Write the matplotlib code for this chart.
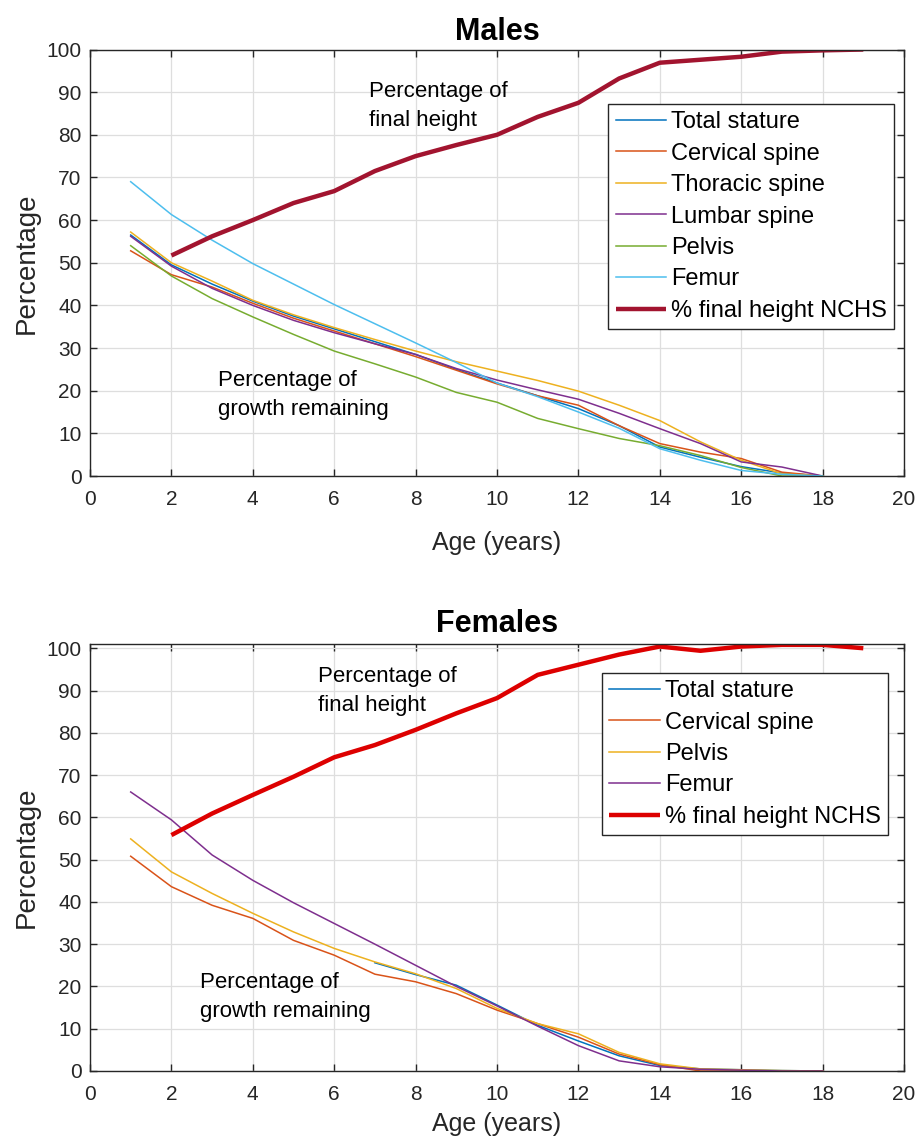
import matplotlib
matplotlib.use("Agg")
import matplotlib.pyplot as plt
import numpy as np

plt.rcParams['font.family'] = ['Liberation Sans', 'DejaVu Sans']

# ---------------- data ----------------
ages = [1, 2, 3, 4, 5, 6, 7, 8, 9, 10, 11, 12, 13, 14, 15, 16, 17, 18]
nchs_ages = [2, 3, 4, 5, 6, 7, 8, 9, 10, 11, 12, 13, 14, 15, 16, 17, 18, 19]

# Males
m_total = [56.5, 49.5, 45.0, 41.0, 37.5, 34.5, 31.5, 28.5, 25.0, 21.8, 18.8, 15.8, 11.8, 6.8, 4.4, 2.2, 0.7, 0.0]
m_cervical = [52.8, 47.2, 44.3, 40.5, 37.0, 34.0, 31.0, 28.0, 24.8, 21.6, 18.8, 16.6, 11.8, 7.6, 5.6, 4.1, 0.9, 0.0]
m_thoracic = [57.2, 50.0, 45.7, 41.2, 37.8, 34.8, 32.0, 29.3, 26.8, 24.6, 22.4, 19.9, 16.6, 13.0, 8.0, 3.7, 0.5, 0.0]
m_lumbar = [56.2, 49.2, 44.0, 40.0, 36.5, 33.6, 31.0, 28.5, 25.2, 22.5, 20.2, 18.0, 14.7, 11.1, 7.6, 3.3, 2.1, 0.0]
m_pelvis = [54.0, 46.9, 41.6, 37.3, 33.2, 29.3, 26.3, 23.2, 19.6, 17.3, 13.5, 11.1, 8.8, 7.1, 4.8, 2.0, 0.0, 0.0]
m_femur = [69.0, 61.3, 55.3, 49.8, 45.0, 40.2, 35.7, 31.2, 26.6, 21.8, 18.6, 15.0, 11.2, 6.4, 3.7, 1.3, 0.4, 0.0]
m_nchs = [51.7, 56.2, 60.0, 64.0, 66.8, 71.5, 75.0, 77.6, 80.0, 84.2, 87.5, 93.2, 96.9, 97.6, 98.3, 99.5, 99.8, 100.0]

# Females
f_total_ages = [7, 8, 9, 10, 11, 12, 13, 14, 15, 16, 17, 18]
f_total = [25.6, 22.8, 20.3, 15.6, 10.8, 7.1, 3.6, 1.3, 0.5, 0.3, 0.1, 0.0]
f_cervical = [50.8, 43.6, 39.2, 36.1, 30.9, 27.4, 22.9, 21.1, 18.3, 14.4, 11.2, 8.0, 4.0, 1.5, 0.0, 0.0, 0.0, 0.0]
f_pelvis = [54.9, 47.1, 42.0, 37.3, 32.9, 29.0, 25.8, 23.0, 19.5, 14.8, 11.2, 8.8, 4.4, 1.7, 0.5, 0.3, 0.1, 0.0]
f_femur = [66.0, 59.4, 51.1, 45.1, 39.8, 34.9, 30.0, 25.0, 20.0, 15.4, 10.6, 6.0, 2.4, 1.0, 0.4, 0.2, 0.0, 0.0]
f_nchs = [55.8, 60.9, 65.3, 69.6, 74.2, 77.1, 80.7, 84.6, 88.2, 93.7, 96.1, 98.5, 100.4, 99.4, 100.4, 100.8, 100.8, 100.0]

xticks = [0, 2, 4, 6, 8, 10, 12, 14, 16, 18, 20]
yticks = [0, 10, 20, 30, 40, 50, 60, 70, 80, 90, 100]

C_BLUE = '#0072BD'
C_ORANGE = '#D95319'
C_YELLOW = '#EDB120'
C_PURPLE = '#7E2F8E'
C_GREEN = '#77AC30'
C_CYAN = '#4DBEEE'
C_DARKRED = '#A2142F'
C_RED = '#DD0000'

fig = plt.figure(figsize=(9.16, 11.41), dpi=100)
fig.patch.set_facecolor('white')

left = 90 / 916
width = (904 - 90) / 916
ax1 = fig.add_axes([left, 1 - 476 / 1141, width, (476 - 49.5) / 1141])
ax2 = fig.add_axes([left, 1 - 1071 / 1141, width, (1071 - 644) / 1141])


def style(ax, ytop, xlabelpad):
    ax.set_xlim(0, 20)
    ax.set_ylim(0, ytop)
    ax.set_xticks(xticks)
    ax.set_yticks(yticks)
    ax.grid(True, color='#DEDEDE', linewidth=0.9)
    ax.set_axisbelow(True)
    for s in ax.spines.values():
        s.set_color('#262626')
        s.set_linewidth(1.0)
    ax.tick_params(direction='in', length=5, width=1.0, color='#262626',
                   top=True, right=True, labelsize=15, labelcolor='#262626')
    ax.tick_params(axis='x', pad=10)
    ax.tick_params(axis='y', pad=6)
    ax.set_xlabel('Age (years)', fontsize=18, color='#262626', labelpad=xlabelpad)
    ax.set_ylabel('Percentage', fontsize=20, color='#262626', labelpad=5)


lw = 1.1
ax1.plot(ages, m_total, color=C_BLUE, lw=lw, label='Total stature')
ax1.plot(ages, m_cervical, color=C_ORANGE, lw=lw, label='Cervical spine')
ax1.plot(ages, m_thoracic, color=C_YELLOW, lw=lw, label='Thoracic spine')
ax1.plot(ages, m_lumbar, color=C_PURPLE, lw=lw, label='Lumbar spine')
ax1.plot(ages, m_pelvis, color=C_GREEN, lw=lw, label='Pelvis')
ax1.plot(ages, m_femur, color=C_CYAN, lw=lw, label='Femur')
ax1.plot(nchs_ages, m_nchs, color=C_DARKRED, lw=3.2, label='% final height NCHS',
         solid_capstyle='butt')
style(ax1, 100, 16)
ax1.set_title('Males', fontsize=22, fontweight='bold', pad=7)
ax1.text(6.85, 86.8, 'Percentage of\nfinal height', fontsize=16, va='center',
         ha='left', linespacing=1.5)
ax1.text(3.15, 19.1, 'Percentage of\ngrowth remaining', fontsize=16, va='center',
         ha='left', linespacing=1.5)
leg1 = ax1.legend(loc='upper right', bbox_to_anchor=(0.9877, 0.872), borderaxespad=0,
                  fontsize=17, frameon=True, fancybox=False, framealpha=1,
                  edgecolor='#262626', handlelength=2.15, handletextpad=0.2,
                  borderpad=0.3, labelspacing=0.4)
leg1.get_frame().set_linewidth(1.0)

ax2.plot(f_total_ages, f_total, color=C_BLUE, lw=lw, label='Total stature')
ax2.plot(ages, f_cervical, color=C_ORANGE, lw=lw, label='Cervical spine')
ax2.plot(ages, f_pelvis, color=C_YELLOW, lw=lw, label='Pelvis')
ax2.plot(ages, f_femur, color=C_PURPLE, lw=lw, label='Femur')
ax2.plot(nchs_ages, f_nchs, color=C_RED, lw=3.2, label='% final height NCHS',
         solid_capstyle='butt')
style(ax2, 101, 6)
ax2.set_title('Females', fontsize=22, fontweight='bold', pad=9)
ax2.text(5.6, 89.9, 'Percentage of\nfinal height', fontsize=16, va='center',
         ha='left', linespacing=1.5)
ax2.text(2.7, 17.6, 'Percentage of\ngrowth remaining', fontsize=16, va='center',
         ha='left', linespacing=1.5)
leg2 = ax2.legend(loc='upper right', bbox_to_anchor=(0.980, 0.932), borderaxespad=0,
                  fontsize=17, frameon=True, fancybox=False, framealpha=1,
                  edgecolor='#262626', handlelength=2.15, handletextpad=0.2,
                  borderpad=0.3, labelspacing=0.4)
leg2.get_frame().set_linewidth(1.0)

fig.savefig('out.png', dpi=100, facecolor='white')
